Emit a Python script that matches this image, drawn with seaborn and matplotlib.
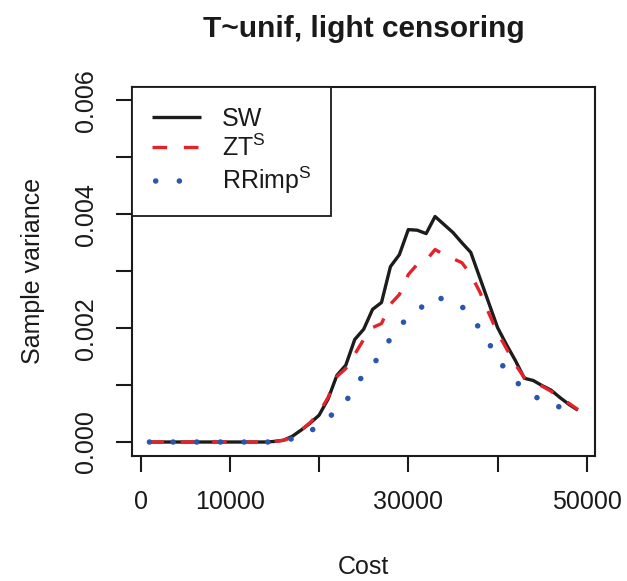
import matplotlib
matplotlib.use("Agg")
import matplotlib.pyplot as plt
import seaborn as sns
import pandas as pd

cost = [1000, 2000, 3000, 4000, 5000, 6000, 7000, 8000, 9000, 10000,
        11000, 12000, 13000, 14000, 15000, 16000, 17000, 18000, 19000, 20000,
        21000, 22000, 23000, 24000, 25000, 26000, 27000, 28000, 29000, 30000,
        31000, 32000, 33000, 34000, 35000, 36000, 37000, 38000, 39000, 40000,
        41000, 42000, 43000, 44000, 45000, 46000, 47000, 48000, 49000]

sw = [0.0, 0.0, 0.0, 0.0, 0.0, 0.0, 0.0, 0.0, 0.0, 0.0,
      0.0, 0.0, 0.0, 0.0, 0.00001, 0.00003, 0.00010, 0.00021, 0.00033, 0.00047,
      0.00075, 0.00117, 0.00135, 0.00180, 0.00198, 0.00233, 0.00245, 0.00308, 0.00329, 0.00373,
      0.00372, 0.00366, 0.00396, 0.00382, 0.00368, 0.00350, 0.00333, 0.00289, 0.00245, 0.00201,
      0.00171, 0.00143, 0.00112, 0.00108, 0.00099, 0.00091, 0.00078, 0.00066, 0.00056]

zt = [0.0, 0.0, 0.0, 0.0, 0.0, 0.0, 0.0, 0.0, 0.0, 0.0,
      0.0, 0.0, 0.0, 0.0, 0.00001, 0.00003, 0.00008, 0.00021, 0.00034, 0.00051,
      0.00078, 0.00115, 0.00129, 0.00154, 0.00180, 0.00201, 0.00208, 0.00242, 0.00259, 0.00294,
      0.00312, 0.00319, 0.00338, 0.00329, 0.00322, 0.00315, 0.00294, 0.00264, 0.00227, 0.00192,
      0.00164, 0.00136, 0.00113, 0.00106, 0.00098, 0.00089, 0.00078, 0.00068, 0.00057]

rr = [0.0, 0.0, 0.0, 0.0, 0.0, 0.0, 0.0, 0.0, 0.0, 0.0,
      0.0, 0.0, 0.0, 0.0, 0.0, 0.00001, 0.00006, 0.00012, 0.00019, 0.00029,
      0.00043, 0.00054, 0.00071, 0.00096, 0.00119, 0.00135, 0.00156, 0.00182, 0.00203, 0.00219,
      0.00231, 0.00243, 0.00256, 0.00250, 0.00245, 0.00238, 0.00221, 0.00199, 0.00175, 0.00145,
      0.00126, 0.00108, 0.00091, 0.00080, 0.00075, 0.00068, 0.00061, 0.00054, 0.00046]

labels = ["SW", r"$\mathregular{ZT^S}$", r"$\mathregular{RRimp^S}$"]
colors = ["#1c1c1c", "#e5222a", "#2a56ad"]

x_ticks = [0, 10000, 20000, 30000, 40000, 50000]
x_ticklabels = ["0", "10000", "", "30000", "", "50000"]
y_ticks = [0.0, 0.001, 0.002, 0.003, 0.004, 0.005, 0.006]
y_ticklabels = ["0.000", "", "0.002", "", "0.004", "", "0.006"]

sns.set_theme(style="white")
plt.rcParams["font.family"] = ["Liberation Sans", "DejaVu Sans"]
plt.rcParams["mathtext.fontset"] = "custom"
plt.rcParams["mathtext.rm"] = "Liberation Sans"

fig = plt.figure(figsize=(6.27, 5.81), dpi=100)
ax = fig.add_axes([0.211, 0.2157, 0.738, 0.6351])

df = pd.DataFrame({"cost": cost, "sw": sw, "zt": zt, "rr": rr})

sns.lineplot(data=df, x="cost", y="sw", ax=ax, color=colors[0], lw=2.4,
             label=labels[0], solid_capstyle="butt")
sns.lineplot(data=df, x="cost", y="zt", ax=ax, color=colors[1], lw=2.4,
             label=labels[1])
sns.lineplot(data=df, x="cost", y="rr", ax=ax, color=colors[2], lw=4.0,
             label=labels[2])

dash_red = (0, (4.4, 5.0))
dot_blue = (0, (0.01, 4.25))

lines = ax.get_lines()
lines[1].set_linestyle(dash_red)
lines[1].set_dash_capstyle("butt")
lines[2].set_linestyle(dot_blue)
lines[2].set_dash_capstyle("round")

xmin, xmax = 1000, 49000
xr = xmax - xmin
ax.set_xlim(xmin - 0.04 * xr, xmax + 0.04 * xr)
ax.set_ylim(-0.04 * 0.006, 0.006 * 1.04)

ax.set_xticks(x_ticks)
ax.set_xticklabels(x_ticklabels)
ax.set_yticks(y_ticks)
ax.set_yticklabels(y_ticklabels, rotation=90, va="center")

for s in ax.spines.values():
    s.set_visible(True)
    s.set_color("#1a1a1a")
    s.set_linewidth(1.5)

ax.tick_params(axis="both", which="major", direction="out", length=11.5,
               width=1.5, color="#1a1a1a", labelsize=18, labelcolor="#1a1a1a",
               pad=13, bottom=True, left=True)

ax.set_xlabel("Cost", fontsize=18, color="#1a1a1a", labelpad=30)
ax.set_ylabel("Sample variance", fontsize=18, color="#1a1a1a", labelpad=21)
ax.set_title("T~unif, light censoring", fontsize=21.5, fontweight="bold",
             color="#1a1a1a", pad=36)

leg = ax.legend(loc="upper left", bbox_to_anchor=(0, 1), borderaxespad=0,
                fontsize=18, frameon=True, fancybox=False, handlelength=1.93,
                handletextpad=0.85, labelspacing=0.16, borderpad=0.8)
leg.get_frame().set_edgecolor("#1a1a1a")
leg.get_frame().set_linewidth(1.3)
leg.get_frame().set_alpha(1)
for t in leg.get_texts():
    t.set_color("#1a1a1a")
lh = leg.get_lines()
lh[1].set_linestyle(dash_red)
lh[1].set_dash_capstyle("butt")
lh[2].set_linestyle((3.6, (0.01, 4.25)))
lh[2].set_dash_capstyle("round")

fig.savefig("out.png", dpi=100)
